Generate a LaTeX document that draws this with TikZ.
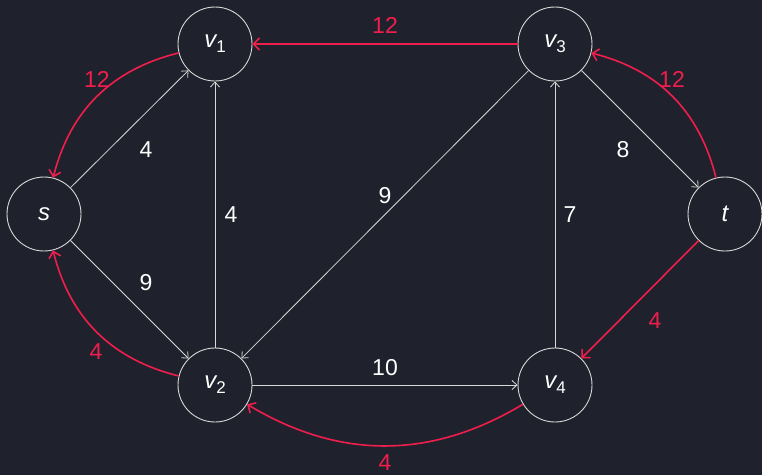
\documentclass[tikz,border=0pt]{standalone}
\usepackage{fontspec}
\setmainfont{Liberation Sans}
\usetikzlibrary{arrows.meta}
\definecolor{bg}{HTML}{1F222C}
\definecolor{fg}{HTML}{D8D8D8}
\definecolor{hot}{HTML}{F01E4D}
\newcommand{\vsub}[1]{v\raisebox{-5pt}{\fontsize{17}{17}\selectfont\upshape #1}}
\begin{document}
\begin{tikzpicture}[x=1pt,y=-1pt,
  vtx/.style={circle,draw=fg,line width=0.9pt,minimum size=74pt,inner sep=0pt,text=white,font=\fontsize{24}{26}\selectfont\itshape},
  flow/.style={draw=fg,line width=0.8pt,-{Straight Barb[length=5pt,width=9pt]}},
  res/.style={draw=hot,line width=1.6pt,-{Straight Barb[length=6pt,width=12pt]}},
  wl/.style={text=white,font=\fontsize{23}{26}\selectfont},
  rl/.style={text=hot,font=\fontsize{23}{26}\selectfont}]
\fill[bg] (0,0) rectangle (762,475);
\useasboundingbox (0,0) rectangle (762,475);
\node[vtx] (s) at (44,214) {s};
\node[vtx] (v1) at (215,44) {\vsub{1}};
\node[vtx] (v2) at (215,385) {\vsub{2}};
\node[vtx] (v3) at (555,44) {\vsub{3}};
\node[vtx] (v4) at (555,385) {\vsub{4}};
\node[vtx] (t) at (725,214) {t};
% white edges
\draw[flow] (s) -- (v1);
\draw[flow] (s) -- (v2);
\draw[flow] (v2) -- (v1);
\draw[flow] (v3) -- (v2);
\draw[flow] (v2) -- (v4);
\draw[flow] (v4) -- (v3);
\draw[flow] (v3) -- (t);
% red edges
\draw[res] (v3) -- (v1);
\draw[res] (v1) to[bend right=31] (s);
\draw[res] (t) to[bend right=31] (v3);
\draw[res] (t) -- (v4);
\draw[res] (v4) to[bend left=31] (v2);
\draw[res] (v2) to[bend left=31] (s);
% labels
\node[wl] (l1) at (146,150) {4};
\node[wl] (l2) at (146,283) {9};
\node[wl] (l3) at (231,215) {4};
\node[wl] (l4) at (385,196) {9};
\node[wl] (l5) at (570,215) {7};
\node[wl] (l6) at (623,150) {8};
\node[wl] (l7) at (385,368) {10};
\node[rl] (r1) at (385,25) {12};
\node[rl] (r2) at (97,79) {12};
\node[rl] (r3) at (672,79) {12};
\node[rl] (r4) at (655,321) {4};
\node[rl] (r5) at (385,463) {4};
\node[rl] (r6) at (96,352) {4};
\end{tikzpicture}
\end{document}
